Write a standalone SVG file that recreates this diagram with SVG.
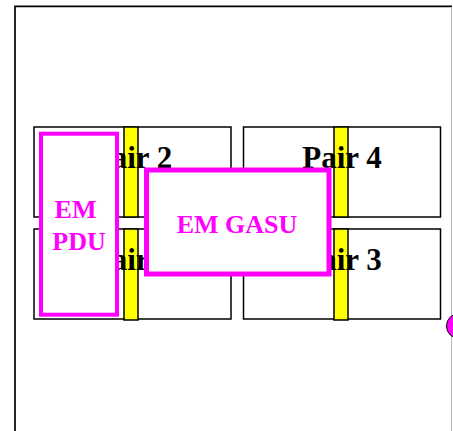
<svg xmlns="http://www.w3.org/2000/svg" width="453" height="431" viewBox="0 0 453 431">
<style>
.frame{fill:none;stroke:#000;stroke-width:1.7}
.pair{fill:#fff;stroke:#000;stroke-width:1.5}
.bar{fill:#ff0;stroke:#000;stroke-width:1.5}
.pl{font-family:"Liberation Serif","Times New Roman",serif;font-weight:bold;font-size:31px;fill:#000;text-anchor:middle}
.em{fill:#fff;stroke:#f0f}
.et{font-family:"Liberation Serif","Times New Roman",serif;font-weight:bold;font-size:26px;fill:#f0f;text-anchor:middle}
</style>
<rect width="453" height="431" fill="#fff"/>
<g id="frame">
<path class="frame" d="M15,431 V6.3 H452"/>
<line x1="451.5" y1="7" x2="451.5" y2="431" stroke="#bbb" stroke-width="1"/>
</g>
<g id="pair2">
<rect class="pair" x="34" y="127" width="197" height="90"/>
<rect class="bar" x="124" y="127" width="14" height="90"/>
<text class="pl" x="132.5" y="168">Pair 2</text>
</g>
<g id="pair1">
<rect class="pair" x="34" y="229" width="197" height="90"/>
<rect class="bar" x="124" y="229" width="14" height="91"/>
<text class="pl" x="132.5" y="270">Pair 1</text>
</g>
<g id="pair4">
<rect class="pair" x="243.5" y="127" width="197" height="90"/>
<rect class="bar" x="334" y="127" width="14" height="90"/>
<text class="pl" x="342" y="168">Pair 4</text>
</g>
<g id="pair3">
<rect class="pair" x="243.5" y="229" width="197" height="90"/>
<rect class="bar" x="334" y="229" width="14" height="91"/>
<text class="pl" x="342" y="270">Pair 3</text>
</g>
<g id="em-pdu">
<rect class="em" x="41" y="133.7" width="76" height="181" stroke-width="4"/>
<text class="et" x="75.5" y="218">EM</text>
<text class="et" x="79" y="250">PDU</text>
</g>
<g id="em-gasu">
<rect class="em" x="146.5" y="170" width="182.5" height="104" stroke-width="5"/>
<text class="et" x="237" y="233">EM GASU</text>
</g>
<g id="marker-dot">
<circle cx="459" cy="326" r="12.5" fill="#f0f" stroke="#000" stroke-width="1"/>
</g>
<g id="connectors"/>
</svg>
